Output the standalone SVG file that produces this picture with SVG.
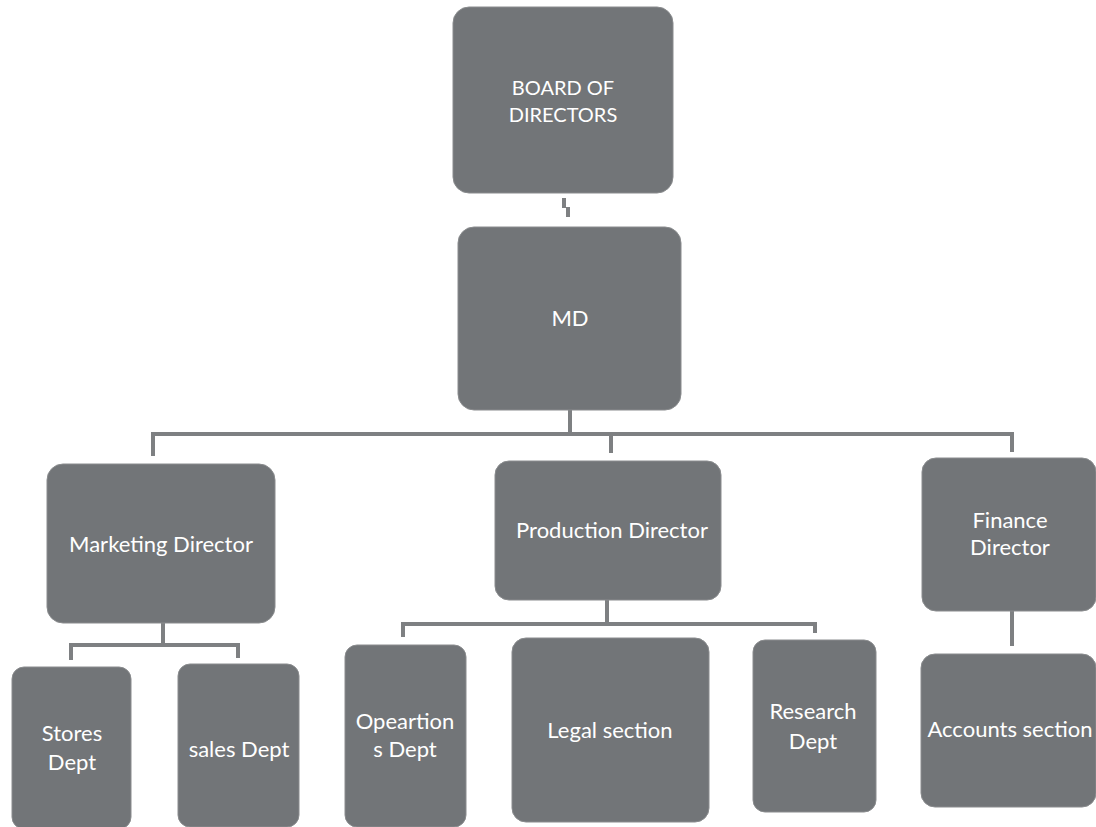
<svg xmlns="http://www.w3.org/2000/svg" width="1096" height="827" viewBox="0 0 1096 827">
<style>
.n{fill:#727578;stroke:#8a8c8e;stroke-width:1}
.t{fill:#ffffff;font-family:Lato,"Open Sans","Liberation Sans",sans-serif;font-size:22px;text-anchor:middle}
.b{font-size:20px}
.c{fill:none;stroke:#7e8082;stroke-width:4}
</style>
<rect width="1096" height="827" fill="#ffffff"/>
<g id="connectors">
<path class="c" d="M564 198 V208 M568 207 V217"/>
<path class="c" d="M570 410 V434 M153 456 V434 H1012 V452 M611 434 V453"/>
<path class="c" d="M163 623 V645 M71 660 V645 H238 V658"/>
<path class="c" d="M607 600 V624 M403 637 V624 H815 V633"/>
<path class="c" d="M1012 611 V646"/>
</g>
<g id="board"><rect class="n" x="453" y="7" width="220" height="186" rx="16"/><text class="t b" x="563" y="95">BOARD OF</text><text class="t b" x="563" y="122">DIRECTORS</text></g>
<g id="md"><rect class="n" x="458" y="227" width="223" height="183" rx="16"/><text class="t" x="570" y="326">MD</text></g>
<g id="marketing"><rect class="n" x="47" y="464" width="228" height="159" rx="16"/><text class="t" x="161" y="552">Marketing Director</text></g>
<g id="production"><rect class="n" x="495" y="461" width="226" height="139" rx="14"/><text class="t" x="612" y="538">Production Director</text></g>
<g id="finance"><rect class="n" x="922" y="458" width="174" height="153" rx="14"/><text class="t" x="1010" y="528">Finance</text><text class="t" x="1010" y="555">Director</text></g>
<g id="stores"><rect class="n" x="12" y="667" width="119" height="162" rx="12"/><text class="t" x="72" y="741">Stores</text><text class="t" x="72" y="770">Dept</text></g>
<g id="sales"><rect class="n" x="178" y="664" width="121" height="163" rx="12"/><text class="t" x="239" y="757">sales Dept</text></g>
<g id="operations"><rect class="n" x="345" y="645" width="121" height="182" rx="12"/><text class="t" x="405" y="729">Opeartion</text><text class="t" x="405" y="757">s Dept</text></g>
<g id="legal"><rect class="n" x="512" y="638" width="197" height="184" rx="14"/><text class="t" x="610" y="738">Legal section</text></g>
<g id="research"><rect class="n" x="753" y="640" width="123" height="172" rx="12"/><text class="t" x="813" y="719">Research</text><text class="t" x="813" y="749">Dept</text></g>
<g id="accounts"><rect class="n" x="921" y="654" width="175" height="153" rx="14"/><text class="t" x="1010" y="737">Accounts section</text></g>
</svg>
